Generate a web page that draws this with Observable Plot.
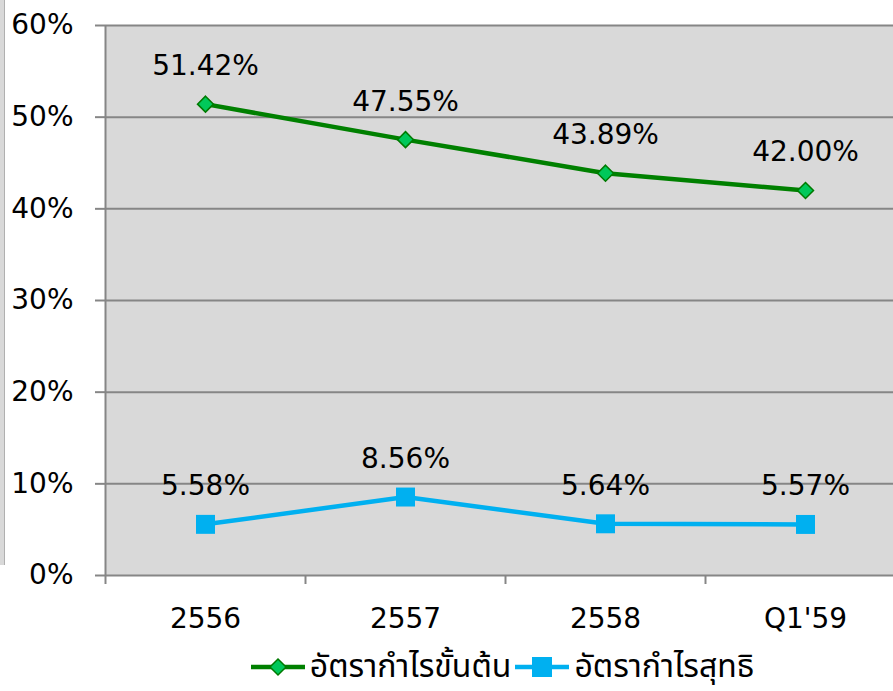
<!DOCTYPE html>
<html>
<head>
<meta charset="utf-8">
<script src="https://cdn.jsdelivr.net/npm/d3@7"></script>
<script src="https://cdn.jsdelivr.net/npm/@observablehq/plot@0.6"></script>
<style>
  html, body { margin: 0; padding: 0; background: white; overflow: hidden; }
  #wrap { position: relative; width: 893px; height: 691px; }
  #strip { position: absolute; left: 0; top: 0; width: 4px; height: 565px; background: #d9d9d9; border-right: 1px solid #b0b0b0; }
  #legend { display: flex; justify-content: center; align-items: center; height: 44px; line-height: 40px; font-family: "Noto Sans Thai", "Noto Sans", "DejaVu Sans", sans-serif; font-size: 32px; color: black; margin-left: 112px; }
  #legend .item { display: flex; align-items: center; margin: 0 2px; }
  #legend svg { margin-right: 5px; }
</style>
</head>
<body>
<div id="wrap">
  <div id="strip"></div>
  <div id="chart"></div>
  <div id="legend"></div>
</div>
<script>
const categories = ["2556", "2557", "2558", "Q1'59"];
const grossMargin = [51.42, 47.55, 43.89, 42.00];
const netMargin = [5.58, 8.56, 5.64, 5.57];
const yTicks = [0, 10, 20, 30, 40, 50, 60];
const seriesNames = ["อัตรากำไรขั้นต้น", "อัตรากำไรสุทธิ"];

const grossData = categories.map((c, i) => ({i: i + 0.5, v: grossMargin[i], c}));
const netData = categories.map((c, i) => ({i: i + 0.5, v: netMargin[i], c}));
const fmt = v => v.toFixed(2) + "%";

const chart = Plot.plot({
  width: 893,
  height: 645,
  marginLeft: 105,
  marginRight: 0,
  marginTop: 25,
  marginBottom: 70,
  x: {domain: [0, 4], range: [105, 905], label: null},
  y: {domain: [0, 60], range: [575, 25], label: null},
  style: {fontFamily: "DejaVu Sans", fontSize: "28px", color: "black", background: "white", overflow: "hidden"},
  marks: [
    Plot.rect([{}], {x1: 0, x2: 4, y1: 0, y2: 60, fill: "#d9d9d9"}),
    Plot.gridY(yTicks, {stroke: "#868686", strokeOpacity: 1, strokeWidth: 2}),
    Plot.ruleX([0], {stroke: "#868686", strokeWidth: 2}),
    Plot.axisY(yTicks, {tickFormat: d => d + "%", tickSize: 10, tickPadding: 22, stroke: "#868686", strokeWidth: 2, fontSize: 28, fill: "black", label: null}),
    Plot.axisX([0, 1, 2, 3, 4], {tickFormat: () => "", tickSize: 9, stroke: "#868686", strokeWidth: 2, label: null}),
    Plot.axisX([0.5, 1.5, 2.5, 3.5], {tickFormat: d => categories[Math.floor(d)], tickSize: 0, tickPadding: 33, fontSize: 28, fill: "black", label: null}),
    Plot.line(grossData, {x: "i", y: "v", stroke: "#008000", strokeWidth: 4.5}),
    Plot.dot(grossData, {x: "i", y: "v", symbol: "diamond2", r: 7.2, fill: "#00c85a", stroke: "#007a00", strokeWidth: 1.5}),
    Plot.line(netData, {x: "i", y: "v", stroke: "#00b0f0", strokeWidth: 4.5}),
    Plot.dot(netData, {x: "i", y: "v", symbol: "square", r: 10.7, fill: "#00b0f0", stroke: "#00b0f0", strokeWidth: 0}),
    Plot.text(grossData, {x: "i", y: "v", text: d => fmt(d.v), dy: -38, fontSize: 28, fill: "black"}),
    Plot.text(netData, {x: "i", y: "v", text: d => fmt(d.v), dy: -38, fontSize: 28, fill: "black"})
  ]
});
document.getElementById("chart").appendChild(chart);

const legend = document.getElementById("legend");
const swatches = [
  `<svg width="54" height="24"><line x1="0" y1="12" x2="54" y2="12" stroke="#008000" stroke-width="4.5"/><path d="M27,4 L35,12 L27,20 L19,12 Z" fill="#00c85a" stroke="#007a00" stroke-width="1.5"/></svg>`,
  `<svg width="54" height="24"><line x1="0" y1="12" x2="54" y2="12" stroke="#00b0f0" stroke-width="4.5"/><rect x="17" y="2" width="20" height="20" fill="#00b0f0"/></svg>`
];
seriesNames.forEach((name, k) => {
  const item = document.createElement("div");
  item.className = "item";
  item.innerHTML = swatches[k] + `<span>${name}</span>`;
  legend.appendChild(item);
});
</script>
</body>
</html>
